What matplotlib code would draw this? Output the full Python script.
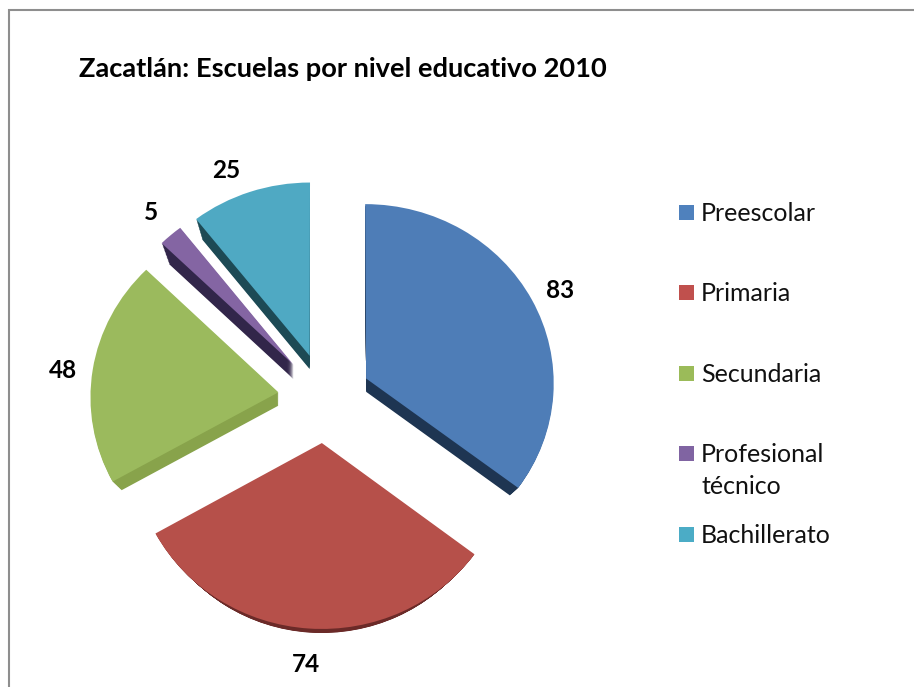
import numpy as np
import matplotlib
matplotlib.use("Agg")
import matplotlib.pyplot as plt
from matplotlib.patches import Rectangle
from matplotlib.transforms import Transform

categories = ["Preescolar", "Primaria", "Secundaria", "Profesional\ntécnico", "Bachillerato"]
values = [83, 74, 48, 5, 25]

top_colors = ["#4E7DB7", "#B6504A", "#9BBA5D", "#8465A3", "#4FA9C3"]
side_colors = ["#1E3552", "#6B2A28", "#88A34B", "#32264A", "#1D4A55"]
legend_colors = ["#4F81BD", "#C0504D", "#9BBB59", "#8064A2", "#4BACC6"]

title = "Zacatlán: Escuelas por nivel educativo 2010"

plt.rcParams["font.family"] = ["Lato", "DejaVu Sans"]

W, H = 914, 687
CX, CY = 325, 398
R = 188
GAPS = [46, 47, 47, 47, 47]


# slight perspective, the far side of the pie gets squashed more
class Tilt(Transform):
    input_dims = 2
    output_dims = 2

    def transform_non_affine(self, pts):
        pts = np.asarray(pts, dtype=float)
        u = (H - CY) - pts[:, 1]
        py = CY + 0.955 * u + 0.00012 * u ** 2
        px = CX + (pts[:, 0] - CX) * (1 + 0.00012 * u)
        return np.column_stack([px, H - py])


fig = plt.figure(figsize=(W / 100, H / 100), dpi=100)
ax = fig.add_axes([0, 0, 1, 1])
tilt = Tilt() + ax.transData


def draw_pie(radius, drop, colors):
    wedges, _ = ax.pie(values, colors=colors, radius=radius, startangle=90, counterclock=False,
                       explode=GAPS, center=(CX, H - CY - drop),
                       wedgeprops={"linewidth": 0}, frame=True)
    for w in wedges:
        w.set_transform(tilt)
    return wedges


# side walls first, stacked from the bottom up
depths = [14, 16, 14, 15, 14]
for d in range(16, 0, -1):
    wedges = draw_pie(R - d * 0.75, d, side_colors)
    for w, depth in zip(wedges, depths):
        w.set_visible(d <= depth)
draw_pie(R, 0, top_colors)

ax.set_aspect("auto")
ax.set_xlim(0, W)
ax.set_ylim(0, H)
ax.axis("off")

# frame of the chart, right and bottom are cut off in the picture
ax.plot([9, 9, W], [0, H - 10, H - 10], color="#8E8E8E", lw=1.5, solid_joinstyle="miter")

ax.text(79, H - 69, title, fontsize=19.6, fontweight="bold", va="center", ha="left", color="black")

label_pos = [(560, 290), (306, 665), (63, 370), (151, 213), (226, 170)]
for v, (x, y) in zip(values, label_pos):
    ax.text(x, H - y, str(v), fontsize=17.5, fontweight="bold", ha="center", va="center", color="black")

legend_y = [212, 292, 373, 453, 534]
for name, c, y in zip(categories, legend_colors, legend_y):
    ax.add_patch(Rectangle((679, H - y - 7.5), 15, 15, facecolor=c, edgecolor="none"))
    ax.text(701, H - y + 10, name, fontsize=18, ha="left", va="top", color="#111111", linespacing=1.45)

fig.savefig("out.png", dpi=100)
